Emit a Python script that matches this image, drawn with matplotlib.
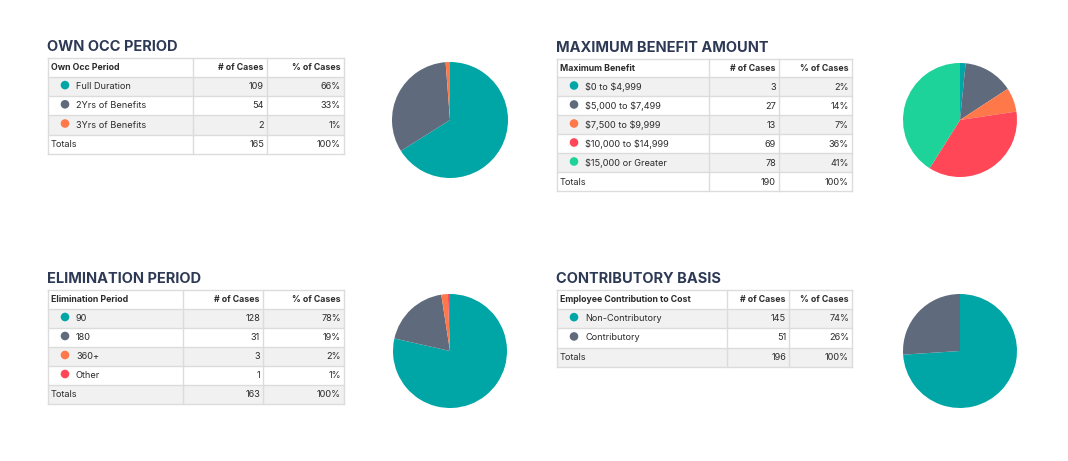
import matplotlib
matplotlib.use("Agg")
import matplotlib.pyplot as plt
from matplotlib.patches import Rectangle, Circle

plt.rcParams["font.family"] = ["Inter", "DejaVu Sans"]
plt.rcParams["text.parse_math"] = False

TEAL = "#00a6a6"
SLATE = "#5f6b7d"
ORANGE = "#ff7849"
RED = "#ff4757"
GREEN = "#1dd39a"

# --- data ---
own_occ_labels = ["Full Duration", "2Yrs of Benefits", "3Yrs of Benefits"]
own_occ_cases = [109, 54, 2]
own_occ_pct = ["66%", "33%", "1%"]
own_occ_colors = [TEAL, SLATE, ORANGE]

max_benefit_labels = ["$0 to $4,999", "$5,000 to $7,499", "$7,500 to $9,999",
                      "$10,000 to $14,999", "$15,000 or Greater"]
max_benefit_cases = [3, 27, 13, 69, 78]
max_benefit_pct = ["2%", "14%", "7%", "36%", "41%"]
max_benefit_colors = [TEAL, SLATE, ORANGE, RED, GREEN]

elim_labels = ["90", "180", "360+", "Other"]
elim_cases = [128, 31, 3, 1]
elim_pct = ["78%", "19%", "2%", "1%"]
elim_colors = [TEAL, SLATE, ORANGE, RED]

contrib_labels = ["Non-Contributory", "Contributory"]
contrib_cases = [145, 51]
contrib_pct = ["74%", "26%"]
contrib_colors = [TEAL, SLATE]

W, H = 1068, 461
fig = plt.figure(figsize=(W / 100, H / 100), dpi=100)
bg = fig.add_axes([0, 0, 1, 1])
bg.set_xlim(0, W)
bg.set_ylim(H, 0)
bg.axis("off")

TITLE_C = "#2e3a55"
TEXT_C = "#2b2b2b"
GRID_C = "#dcdcdc"
STRIPE_C = "#f1f1f1"
FS = 6.6
HFS = 6.3


def draw_table(x0, y0, cols, row_h, title, header, labels, cases, pcts, colors):
    # cols: x positions of column boundaries [left, d1, d2, right]
    bg.text(x0 - 1, y0 - 11, title, fontsize=10.5, fontweight="bold", color=TITLE_C,
            va="center", ha="left")
    left, d1, d2, right = cols
    rows = [(lab, str(c), p, col) for lab, c, p, col in zip(labels, cases, pcts, colors)]
    rows.append(("Totals", str(sum(cases)), "100%", None))
    hh = row_h[0]
    # header
    y = y0
    bg.text(left + 3, y + hh / 2, header[0], fontsize=HFS, fontweight="bold",
            color=TEXT_C, va="center")
    bg.text(d2 - 3, y + hh / 2, header[1], fontsize=HFS, fontweight="bold",
            color=TEXT_C, va="center", ha="right")
    bg.text(right - 3, y + hh / 2, header[2], fontsize=HFS, fontweight="bold",
            color=TEXT_C, va="center", ha="right")
    y += hh
    ys = [y0, y]
    for i, (lab, c, p, col) in enumerate(rows):
        rh = row_h[1]
        if i % 2 == 0:
            bg.add_patch(Rectangle((left, y), right - left, rh, facecolor=STRIPE_C,
                                   edgecolor="none", zorder=0))
        yc = y + rh / 2
        if col is not None:
            bg.add_patch(Circle((left + 17, yc - 1.5), 4.3, facecolor=col,
                                edgecolor="none", zorder=2))
            bg.text(left + 28, yc, lab, fontsize=FS, color=TEXT_C, va="center")
        else:
            bg.text(left + 3, yc, lab, fontsize=FS, color=TEXT_C, va="center")
        bg.text(d2 - 3, yc, c, fontsize=FS, color=TEXT_C, va="center", ha="right")
        bg.text(right - 3, yc, p, fontsize=FS, color=TEXT_C, va="center", ha="right")
        y += rh
        ys.append(y)
    for yy in ys:
        bg.plot([left, right], [yy, yy], color=GRID_C, lw=1, zorder=1)
    for xx in cols:
        bg.plot([xx, xx], [y0, y], color=GRID_C, lw=1, zorder=1)


def draw_pie(cx, cy, r, values, colors):
    ax = fig.add_axes([(cx - r) / W, 1 - (cy + r) / H, 2 * r / W, 2 * r / H])
    ax.pie(values, colors=colors, startangle=90, counterclock=False,
           wedgeprops=dict(linewidth=0))
    ax.set_xlim(-1, 1)
    ax.set_ylim(-1, 1)
    ax.set_aspect("equal")


draw_table(48, 58, [48, 193, 267, 344], (19, 19.2), "OWN OCC PERIOD",
           ["Own Occ Period", "# of Cases", "% of Cases"],
           own_occ_labels, own_occ_cases, own_occ_pct, own_occ_colors)
draw_table(557, 59, [557, 709, 779, 852], (18.5, 19), "MAXIMUM BENEFIT AMOUNT",
           ["Maximum Benefit", "# of Cases", "% of Cases"],
           max_benefit_labels, max_benefit_cases, max_benefit_pct, max_benefit_colors)
draw_table(48, 290, [48, 183, 263, 344], (19, 19), "ELIMINATION PERIOD",
           ["Elimination Period", "# of Cases", "% of Cases"],
           elim_labels, elim_cases, elim_pct, elim_colors)
draw_table(557, 290, [557, 727, 789, 852], (19, 19.3), "CONTRIBUTORY BASIS",
           ["Employee Contribution to Cost", "# of Cases", "% of Cases"],
           contrib_labels, contrib_cases, contrib_pct, contrib_colors)

draw_pie(450, 120, 58, own_occ_cases, own_occ_colors)
draw_pie(960, 120, 57, max_benefit_cases, max_benefit_colors)
draw_pie(450, 351, 57, elim_cases, elim_colors)
draw_pie(960, 351, 57, contrib_cases, contrib_colors)

fig.savefig("out.png", dpi=100, facecolor="white")
